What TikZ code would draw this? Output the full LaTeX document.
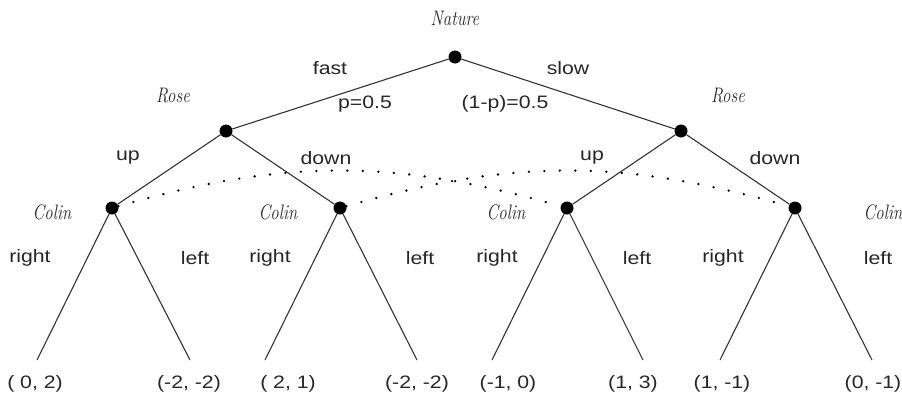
\documentclass[tikz,border=0pt]{standalone}
\usepackage{fontspec}
\newfontfamily\labelfont[FakeStretch=1.18]{Liberation Sans}
\newfontfamily\playerfont[FakeStretch=0.8]{Latin Modern Roman}

\begin{document}
\begin{tikzpicture}[x=1pt, y=-1pt,
    every node/.style={font=\labelfont\fontsize{18}{20}\selectfont, text=black!85},
    dot/.style={circle, fill=black, inner sep=0pt, minimum size=13pt},
    player/.style={font=\playerfont\itshape\fontsize{21}{23}\selectfont},
    branch/.style={line width=1.1pt, black!80},
    info/.style={line width=2.6pt, dash pattern=on 0pt off 15.5pt, line cap=round}]
      \useasboundingbox (0,0) rectangle (902,402);
      % decision nodes
      \node[dot] (nat) at (455,57) {};
      \node[dot] (rl) at (226,131) {};
      \node[dot] (rr) at (681,131) {};
      \node[dot] (c1) at (112,208) {};
      \node[dot] (c2) at (340,208) {};
      \node[dot] (c3) at (567,208) {};
      \node[dot] (c4) at (795,208) {};
      % leaves
      \coordinate (l1) at (37,360);  \coordinate (l2) at (190,360);
      \coordinate (l3) at (265,360); \coordinate (l4) at (417,360);
      \coordinate (l5) at (492,360); \coordinate (l6) at (643,360);
      \coordinate (l7) at (720,360); \coordinate (l8) at (872,360);
      \draw[branch] (nat) -- (rl);  \draw[branch] (nat) -- (rr);
      \draw[branch] (rl) -- (c1);   \draw[branch] (rl) -- (c2);
      \draw[branch] (rr) -- (c3);   \draw[branch] (rr) -- (c4);
      \draw[branch] (c1) -- (l1);   \draw[branch] (c1) -- (l2);
      \draw[branch] (c2) -- (l3);   \draw[branch] (c2) -- (l4);
      \draw[branch] (c3) -- (l5);   \draw[branch] (c3) -- (l6);
      \draw[branch] (c4) -- (l7);   \draw[branch] (c4) -- (l8);
      % information sets
      \draw[info] (c1) to[bend left=16] (c3);
      \draw[info] (c2) to[bend left=16] (c4);
      % players
      \node[player] (pn) at (455,18) {Nature};
      \node[player] (pr1) at (173,96) {Rose};
      \node[player] (pr2) at (728,96) {Rose};
      \node[player] (pc1) at (52,212) {Colin};
      \node[player] (pc2) at (278,212) {Colin};
      \node[player] (pc3) at (506,212) {Colin};
      \node[player] (pc4) at (883,212) {Colin};
      % moves
      \node (fast) at (330,68) {fast};
      \node (slow) at (568,68) {slow};
      \node (pf) at (365,104) {p=0.5};
      \node (ps) at (505,104) {(1-p)=0.5};
      \node (u1) at (128,158) {up};
      \node (d1) at (326,158) {down};
      \node (u2) at (592,158) {up};
      \node (d2) at (775,158) {down};
      \node (r1) at (30,258) {right};  \node (f1) at (195,258) {left};
      \node (r2) at (270,258) {right}; \node (f2) at (420,258) {left};
      \node (r3) at (497,258) {right}; \node (f3) at (637,258) {left};
      \node (r4) at (723,258) {right}; \node (f4) at (878,258) {left};
      % payoffs
      \node (o1) at (35,384) {( 0, 2)};
      \node (o2) at (189,384) {(-2, -2)};
      \node (o3) at (288,384) {( 2, 1)};
      \node (o4) at (417,384) {(-2, -2)};
      \node (o5) at (508,384) {(-1, 0)};
      \node (o6) at (633,384) {(1, 3)};
      \node (o7) at (722,384) {(1, -1)};
      \node (o8) at (873,384) {(0, -1)};
\end{tikzpicture}
\end{document}
